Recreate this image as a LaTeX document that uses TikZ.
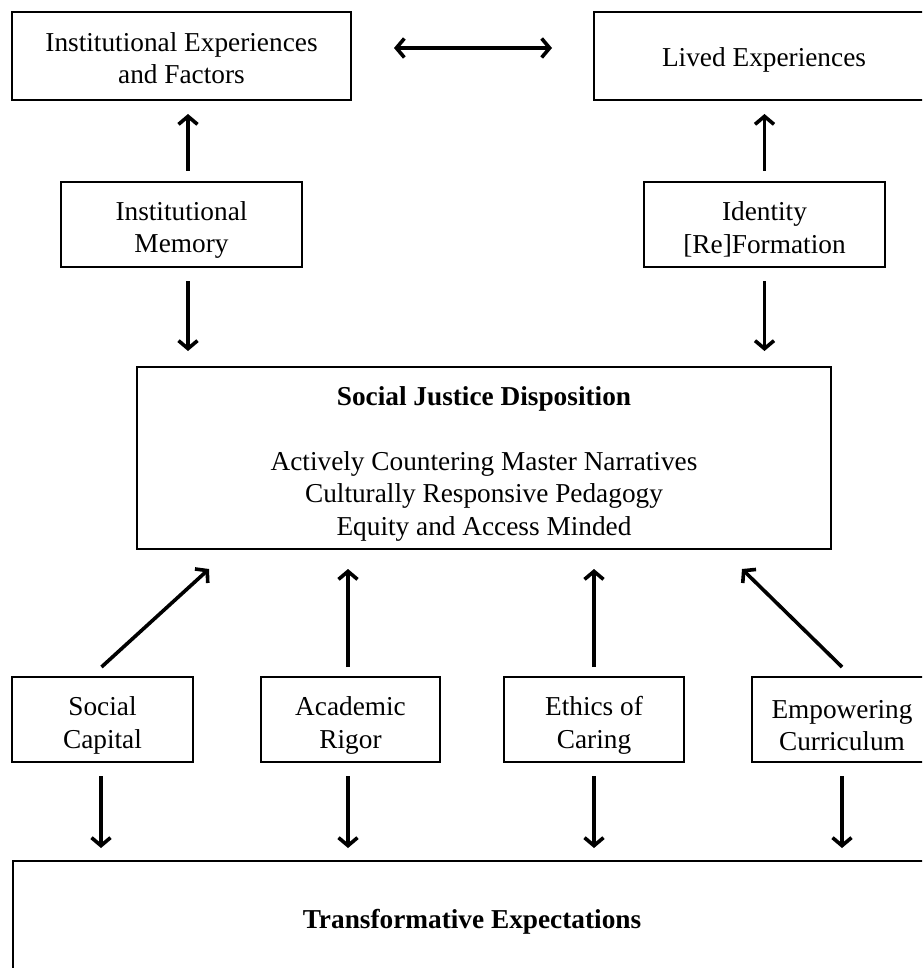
\documentclass[tikz,border=0pt]{standalone}
\usepackage{fontspec}
\setmainfont{Liberation Serif}
\usetikzlibrary{arrows.meta,calc}
\begin{document}
\begin{tikzpicture}[x=1pt,y=-1pt,
  txt/.style={inner sep=0pt, align=center, font=\fontsize{27.3}{32.5}\selectfont},
  box/.style={draw, line width=2pt, inner sep=0pt},
  boxtext/.style 2 args={label={[txt, yshift=-#1pt]center:{#2}}},
  arr/.style={line width=3.6pt, -{Straight Barb[length=8pt,width=19pt]}},
  darr/.style={line width=3.6pt, {Straight Barb[length=8pt,width=19pt]}-{Straight Barb[length=8pt,width=19pt]}}]
\useasboundingbox (0,0) rectangle (922,968);
\clip (0,0) rectangle (922,968);
\node[box, minimum width=339pt, minimum height=88pt, boxtext={2}{Institutional Experiences\\and Factors}] (IEF) at (181.5,56) {};
\node[box, minimum width=340pt, minimum height=88pt, boxtext={4}{Lived Experiences}] (LE) at (764,56) {};
\node[box, minimum width=241pt, minimum height=85pt, boxtext={5.5}{Institutional\\Memory}] (IM) at (181.5,224.5) {};
\node[box, minimum width=241pt, minimum height=85pt, boxtext={5}{Identity\\{[Re]}Formation}] (IRF) at (764.5,224.5) {};
\node[box, minimum width=694pt, minimum height=182pt, boxtext={5.5}{\textbf{Social Justice Disposition}\\[32.5pt]Actively Countering Master Narratives\\Culturally Responsive Pedagogy\\Equity and Access Minded}] (SJD) at (484,458) {};
\node[box, minimum width=181pt, minimum height=85pt, boxtext={6}{Social\\Capital}] (SC) at (102.5,719.5) {};
\node[box, minimum width=179pt, minimum height=85pt, boxtext={6}{Academic\\Rigor}] (AR) at (350.5,719.5) {};
\node[box, minimum width=180pt, minimum height=85pt, boxtext={6}{Ethics of\\Caring}] (EoC) at (594,719.5) {};
\node[box, minimum width=180pt, minimum height=85pt, boxtext={6}{Empowering\\Curriculum}] (EC) at (842,719.5) {};
\node[box, minimum width=920pt, minimum height=160pt, anchor=north west] (TE) at (12,860) {};
\node[txt, font=\fontsize{27.3}{32.5}\selectfont\bfseries] (TEt) at (472,921.5) {Transformative Expectations};
% top double arrow
\draw[darr] ($(IEF.east)+(42,-8)$) -- ($(LE.west)+(-41,-8)$);
% up arrows to top boxes
\draw[arr] ($(IM.north)+(6.5,-10)$) -- ($(IM.north |- IEF.south)+(6.5,13)$);
\draw[arr] ($(IRF.north)+(0,-10)$) -- ($(IRF.north |- LE.south)+(0,13)$);
% down arrows to SJD
\draw[arr] ($(IM.south)+(6.5,13)$) -- ($(IM.south |- SJD.north)+(6.5,-15)$);
\draw[arr] ($(IRF.south)+(0,13)$) -- ($(IRF.south |- SJD.north)+(0,-15)$);
% up arrows from row boxes
\draw[arr] ($(SC.north)+(-1,-9)$) -- ($(SJD.south west)+(73,19)$);
\draw[arr] ($(AR.north)+(-2.5,-9)$) -- ($(AR.north |- SJD.south)+(-2.5,19)$);
\draw[arr] ($(EoC.north)+(0,-9)$) -- ($(EoC.north |- SJD.south)+(0,19)$);
\draw[arr] ($(EC.north)+(0,-9)$) -- ($(SJD.south)+(258,19)$);
% down arrows to TE
\draw[arr] ($(SC.south)+(-1.5,13)$) -- ($(SC.south |- TE.north)+(-1.5,-12)$);
\draw[arr] ($(AR.south)+(-2.5,13)$) -- ($(AR.south |- TE.north)+(-2.5,-12)$);
\draw[arr] ($(EoC.south)+(0,13)$) -- ($(EoC.south |- TE.north)+(0,-12)$);
\draw[arr] ($(EC.south)+(0,13)$) -- ($(EC.south |- TE.north)+(0,-12)$);
\end{tikzpicture}
\end{document}
